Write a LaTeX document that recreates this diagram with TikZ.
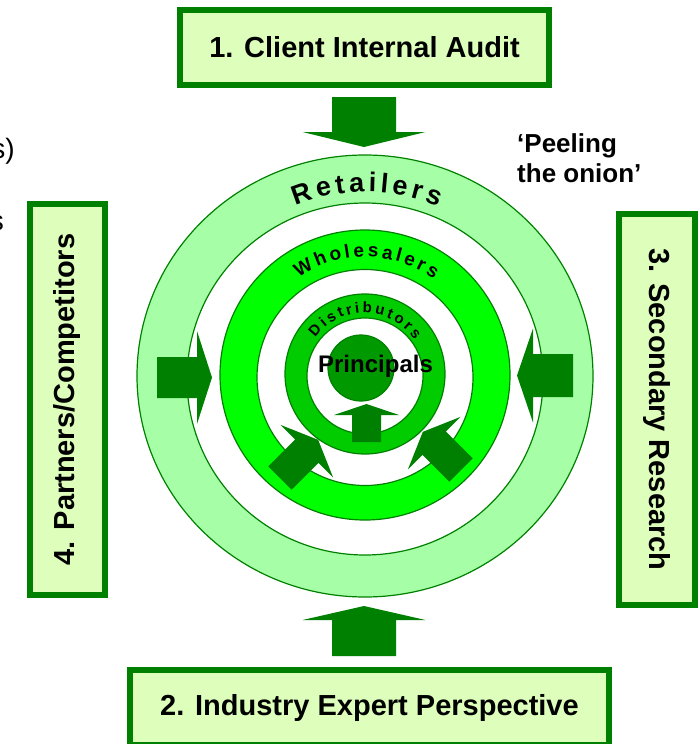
\documentclass[tikz,border=0pt]{standalone}
\usepackage{fontspec}
\setmainfont{Liberation Sans}
\usetikzlibrary{decorations.text}
\definecolor{boxfill}{HTML}{DDFFBB}
\definecolor{darkgreen}{HTML}{008000}
\definecolor{retailfill}{HTML}{A6FFA6}
\definecolor{wholefill}{HTML}{00FF00}
\definecolor{distfill}{HTML}{00CC00}
\definecolor{princfill}{HTML}{009900}
\newcommand{\retailfont}{\fontsize{27}{30}\selectfont\bfseries\kern4pt}
\newcommand{\wholefont}{\fontsize{19}{22}\selectfont\bfseries\kern3.2pt}
\newcommand{\distfont}{\fontsize{15}{18}\selectfont\bfseries\kern2.8pt}
\tikzstyle{stagebox} = [rectangle, draw=darkgreen, line width=6pt, fill=boxfill,
inner sep=0pt, font=\fontsize{29}{34}\selectfont\bfseries]
\tikzstyle{ring} = [draw=darkgreen, line width=1.2pt]
\tikzstyle{ringtext} = [decorate, decoration={text along path, text align=center}]
\tikzset{
  pics/fatarrow/.style args={#1/#2/#3/#4}{
    code={\fill[darkgreen] (0,-#2) -- (#1,-#2) -- (#1,-#3) -- (#1+#4,0) -- (#1,#3) -- (#1,#2) -- (0,#2) -- cycle;}}
}

\begin{document}
\begin{tikzpicture}[x=1pt, y=1pt]
				\useasboundingbox (0,0) rectangle (698,-744);

				% Draw rings
				\draw [ring, fill=retailfill] (365,-376) ellipse [x radius=228, y radius=221];
				\draw [ring, fill=white] (365,-379) ellipse [x radius=178, y radius=176];
				\draw [ring, fill=wholefill] (365,-375) circle [radius=145];
				\draw [ring, fill=white] (365,-377.5) circle [radius=108];
				\draw [ring, fill=distfill] (365,-374) circle [radius=80];
				\draw [ring, fill=white] (365,-376) circle [radius=58];
				\draw [ring, fill=princfill] (361,-368) circle [radius=33];

				% Ring labels
				\path [ringtext, decoration={text={|\retailfont|Retailers}}] (365,-378) ++(150:186) arc [start angle=150, end angle=30, radius=186];
				\path [ringtext, decoration={text={|\wholefont|Wholesalers}}] (365,-376) ++(160:119) arc [start angle=160, end angle=20, radius=119];
				\path [ringtext, decoration={text={|\distfont|Distributors}}] (364,-374) ++(180:61) arc [start angle=180, end angle=0, radius=61];
				\node (principals) [anchor=base, font=\fontsize{24}{28}\selectfont\bfseries] at (375.5,-372) {Principals};

				% Draw block arrows
				\pic [rotate=-90] at (364,-97) {fatarrow=35/32/61.5/15};
				\pic [rotate=90] at (364,-656) {fatarrow=36/32/61.5/14};
				\pic at (157,-377.5) {fatarrow=40/20.5/46.5/15};
				\pic [rotate=180] at (573,-375.5) {fatarrow=40/21.5/47/16};
				\pic [rotate=90] at (366.5,-442) {fatarrow=27/14.5/32.5/11};
				\pic [rotate=45] at (280,-478) {fatarrow=38/16.5/37/16};
				\pic [rotate=135] at (461,-470) {fatarrow=38/16.5/37/16};

				% Place boxes
				\node (audit) [stagebox, minimum width=369pt, minimum height=75pt] at (364.5,-47.5) {1. Client Internal Audit};
				\node (expert) [stagebox, minimum width=479pt, minimum height=75pt] at (369.5,-707.5) {2. Industry Expert Perspective};
				\node (research) [stagebox, rotate=-90, minimum width=391pt, minimum height=76pt] at (657,-409.5) {3. Secondary Research};
				\node (partners) [stagebox, rotate=90, minimum width=391pt, minimum height=75pt] at (67.5,-399.5) {4. Partners/Competitors};

				% Side texts
				\node (onion) [anchor=base west, align=left, inner sep=0pt, font=\fontsize{26}{30}\selectfont\bfseries] at (517,-182) {‘Peeling\\the onion’};
				\node (cutfirst) [anchor=base east, inner sep=0pt, font=\fontsize{28}{32}\selectfont] at (15,-158) {s)};
				\node (cutsecond) [anchor=base east, inner sep=0pt, font=\fontsize{28}{32}\selectfont] at (4,-230) {s};

			\end{tikzpicture}
\end{document}
